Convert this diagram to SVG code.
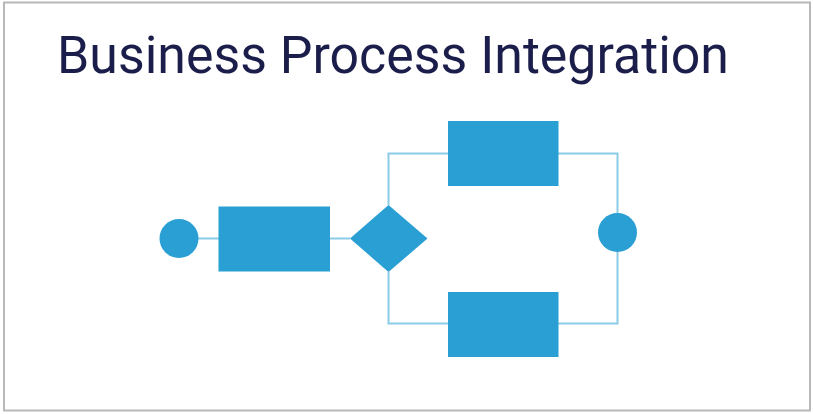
<svg xmlns="http://www.w3.org/2000/svg" width="813" height="414" viewBox="0 0 813 414">
<style>
.node{fill:#2a9fd3}
.conn{fill:none;stroke:#8ccbe8;stroke-width:2}
.title{font-family:Roboto,"Liberation Sans",sans-serif;font-size:51px;fill:#1b1d4a}
</style>
<rect x="4" y="2.5" width="806" height="408" fill="#ffffff" stroke="#b8b8b8" stroke-width="2"/>
<text class="title" x="57" y="73.3" textLength="672" lengthAdjust="spacingAndGlyphs">Business Process Integration</text>
<g id="connectors">
<path class="conn" d="M198 238.5H219"/>
<path class="conn" d="M330 238.5H350"/>
<path class="conn" d="M388.5 205V153.5H448"/>
<path class="conn" d="M558 153.5H617.5V213"/>
<path class="conn" d="M388.5 272V323.5H448"/>
<path class="conn" d="M558 323.5H617.5V252"/>
</g>
<g id="start"><circle class="node" cx="179" cy="238.5" r="19.5"/></g>
<g id="task1"><rect class="node" x="218.5" y="206.5" width="111.5" height="65"/></g>
<g id="gateway"><polygon class="node" points="350,238.5 388.5,205 427.5,238.5 388.5,272"/></g>
<g id="task2"><rect class="node" x="448" y="121" width="110.5" height="65"/></g>
<g id="task3"><rect class="node" x="448" y="292" width="110.5" height="65"/></g>
<g id="end"><circle class="node" cx="617.5" cy="232.5" r="19.5"/></g>
</svg>
